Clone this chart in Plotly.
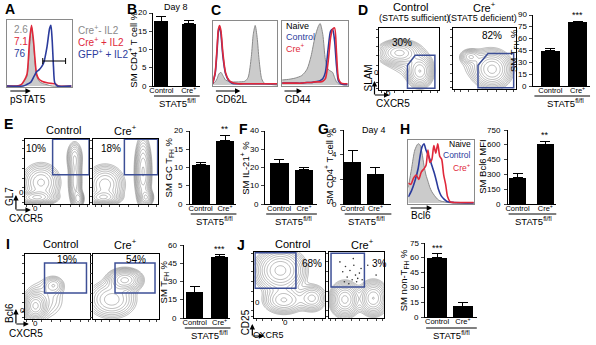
import numpy as np
import plotly.graph_objects as go

W, H = 596, 345
FONT = "Arial, Liberation Sans, sans-serif"
GATE = "#3d4f96"
BLUE = "#2b3b9c"
RED = "#e0283a"
GRAYLINE = "#8a8a8a"
GRAYFILL = "#cbcbcb"

# ---------------- data ----------------
categories = ["Control", "Cre<sup>+</sup>"]
B_mean = [17.7, 17.0]; B_err = [1.4, 1.0]; B_ticks = [0, 5, 10, 15, 20]
D_mean = [44.8, 81.5]; D_err = [2.9, 0.9]; D_ticks = [0, 15, 30, 45, 60, 75, 90]
E_mean = [10.7, 17.3]; E_err = [0.7, 1.6]; E_ticks = [0, 5, 10, 15, 20]
F_mean = [22.2, 18.7]; F_err = [2.3, 1.2]; F_ticks = [0, 10, 20, 30, 40]
G_mean = [3.39, 2.40]; G_err = [0.96, 0.59]; G_ticks = [0, 2, 4, 6]
H_mean = [267, 605]; H_err = [40, 33]; H_ticks = [0, 150, 300, 450, 600, 750]
I_mean = [21.0, 50.5]; I_err = [4.9, 1.3]; I_ticks = [0, 15, 30, 45, 60]
J_mean = [60.3, 10.7]; J_err = [4.0, 4.0]; J_ticks = [0, 15, 30, 45, 60, 75]

# histograms (x: relative fluorescence 0-100, y: % of max)
A_x_gray = [0, 15, 22, 27, 31, 35, 38, 41, 46, 50, 55, 62, 70, 100]
A_gray = [0, 0, 2, 8, 15, 60, 90, 65, 15, 7, 4, 2, 0, 0]
A_x_red = [0, 15, 22, 27, 31, 35, 38, 41, 46, 50, 55, 62, 68, 75, 80, 100]
A_red = [0, 0, 2, 9, 18, 70, 93, 70, 18, 10, 7, 5, 4, 3, 0, 0]
A_x_blue = [0, 25, 30, 37, 42, 46, 50, 54, 57, 62, 66, 68, 70, 72, 74, 78, 100]
A_blue = [0, 0, 2, 6, 15, 22, 25, 30, 36, 60, 88, 93, 70, 30, 5, 0, 0]

C1_x = [0, 4, 7, 9, 11, 13, 16, 20, 25, 30, 40, 50, 55, 60, 63, 66, 69, 72, 76, 80, 90, 100]
C1_gray = [2, 5, 10, 16, 19, 20, 15, 8, 6, 5, 5, 6, 12, 45, 80, 94, 75, 40, 10, 3, 1, 0]
C1_blue = [2, 18, 55, 85, 92, 80, 45, 18, 7, 3, 2, 2, 2, 2, 2, 2, 2, 2, 2, 2, 2, 2]
C1_red = [2, 20, 60, 88, 94, 85, 50, 20, 8, 4, 2, 2, 2, 2, 2, 2, 2, 2, 2, 2, 2, 2]

C2_x = [0, 10, 20, 30, 38, 44, 50, 55, 58, 62, 66, 70, 74, 77, 80, 83, 86, 90, 95, 100]
C2_gray = [8, 9, 11, 15, 25, 45, 75, 92, 97, 80, 40, 25, 22, 20, 12, 5, 2, 1, 0, 0]
C2_blue = [3, 3, 3, 3, 4, 4, 5, 6, 7, 10, 20, 55, 85, 88, 70, 30, 6, 2, 1, 1]
C2_red = [3, 3, 3, 3, 4, 4, 5, 5, 5, 6, 10, 35, 75, 88, 90, 50, 10, 3, 2, 2]

H_x_gray = [0, 5, 10, 15, 18, 21, 24, 27, 30, 33, 36, 40, 43, 46, 50, 55, 60, 70, 100]
H_gray = [25, 55, 85, 95, 93, 80, 60, 45, 35, 25, 18, 12, 8, 5, 3, 2, 1, 0, 0]
H_x_blue = [0, 5, 10, 15, 18, 21, 24, 27, 30, 33, 36, 40, 43, 46, 50, 55, 60, 70, 100]
H_blue = [10, 20, 35, 55, 75, 90, 95, 85, 78, 70, 60, 47, 35, 22, 12, 6, 2, 1, 0]
H_x_red = [0, 4, 8, 12, 16, 20, 24, 27, 30, 33, 36, 39, 42, 45, 48, 51, 54, 57, 60, 64, 70, 100]
H_red = [32, 30, 40, 45, 38, 50, 55, 60, 85, 65, 70, 92, 80, 95, 75, 70, 45, 30, 10, 2, 1, 1]

# flow cytometry populations: (center x, center y, spread x, spread y, weight)
D_ctrl_pops = [(33, 60, 16, 9, 1.0), (68, 30, 10, 12, 0.9), (50, 45, 20, 15, 0.12)]
D_cre_pops = [(28, 53, 8, 6, 0.35), (63, 32, 14, 14, 1.0), (45, 40, 20, 15, 0.1)]
E_ctrl_pops = [(18, 10, 14, 5, 1.0), (25, 33, 14, 14, 0.6), (78, 35, 5, 20, 0.5), (77, 72, 6, 12, 0.35), (83, 8, 4, 6, 0.6)]
E_cre_pops = [(15, 10, 12, 5, 0.8), (18, 30, 14, 14, 0.6), (77, 50, 6, 25, 0.7), (82, 10, 5, 6, 0.6)]
I_ctrl_pops = [(16, 20, 8, 10, 1.0), (44, 52, 8, 7, 0.25), (30, 30, 18, 18, 0.15)]
I_cre_pops = [(48, 60, 12, 8, 1.0), (28, 30, 18, 14, 0.45)]
J_ctrl_pops = [(37, 72, 16, 15, 1.0), (42, 27, 14, 10, 0.5), (82, 30, 10, 10, 0.4)]
J_cre_pops = [(29, 28, 12, 12, 1.0), (80, 30, 12, 12, 0.9)]
J_cre_dots_x = [20, 25, 30, 33, 38, 42, 45, 48, 50, 55, 58, 28, 36, 44, 52, 60, 70, 85]
J_cre_dots_y = [85, 70, 78, 62, 72, 58, 80, 65, 55, 68, 75, 55, 52, 90, 60, 58, 80, 65]

# gates (x, y vertices)
D_ctrl_gate = [(47, 3), (47, 40), (60, 56), (93, 56), (93, 3)]
D_cre_gate = [(40, 2), (40, 39), (56, 58), (97, 58), (97, 2)]
E_ctrl_gate = [(43, 45), (43, 99.5), (99.5, 99.5), (99.5, 45)]
E_cre_gate = [(48, 45), (48, 99.5), (99.5, 99.5), (99.5, 45)]
I_ctrl_gate = [(30, 40), (30, 86), (94, 86), (94, 40)]
I_cre_gate = [(33, 40), (33, 86), (94, 86), (94, 40)]
J_ctrl_gate = [(1, 45), (1, 99), (59, 99), (59, 45)]
J_cre_gate = [(4, 47), (4, 98), (64, 98), (64, 47)]

# ---------------- helpers ----------------
fig = go.Figure()
annotations = []
shapes = []
n_axes = [0]


def add_axes(x0, x1, y0, y1, xa_kw, ya_kw):
    n_axes[0] += 1
    n = n_axes[0]
    s = "" if n == 1 else str(n)
    fig.update_layout(**{
        "xaxis" + s: dict(domain=[x0 / W, x1 / W], anchor="y" + s, **xa_kw),
        "yaxis" + s: dict(domain=[1 - y1 / H, 1 - y0 / H], anchor="x" + s, **ya_kw),
    })
    return "x" + s, "y" + s


def text(x, y, s, size=10, color="black", xanchor="center", yanchor="middle", angle=0):
    annotations.append(dict(x=x / W, y=1 - y / H, xref="paper", yref="paper", text=s,
                            showarrow=False, xanchor=xanchor, yanchor=yanchor, textangle=angle,
                            font=dict(size=size, color=color, family=FONT)))


def arrow(x0, y0, x1, y1):
    annotations.append(dict(x=x1 / W, y=1 - y1 / H, xref="paper", yref="paper",
                            ax=x0 - x1, ay=y0 - y1, text="", showarrow=True,
                            arrowhead=2, arrowsize=0.9, arrowwidth=1.2, arrowcolor="black"))


def line(x0, y0, x1, y1, width=1, color="black"):
    shapes.append(dict(type="line", xref="paper", yref="paper", x0=x0 / W, x1=x1 / W,
                       y0=1 - y0 / H, y1=1 - y1 / H, line=dict(color=color, width=width)))


def bar_panel(x0, x1, ytop, ybot, means, errs, ticks, c0, c1, bw, ylabel, ylab_x,
              star=None, star_idx=None, lab_y=None, ylab_size=9.5, tsize=8):
    unit = c1 - c0
    r0 = -(c0 - x0) / unit
    r1 = r0 + (x1 - x0) / unit
    xa, ya = add_axes(
        x0, x1, ytop, ybot,
        dict(range=[r0, r1], showline=True, linecolor="black", linewidth=1, ticks="",
             tickvals=[0, 1], ticktext=categories, tickangle=0,
             tickfont=dict(size=7.5, family=FONT, color="black"),
             showgrid=False, zeroline=False, ticklabelstandoff=-3),
        dict(range=[0, ticks[-1]], showline=True, linecolor="black", linewidth=1,
             ticks="outside", ticklen=3, tickwidth=1, tickvals=ticks, showticklabels=False,
             showgrid=False, zeroline=False))
    # y tick labels at the same fractions of the axis height as the tick marks
    top = ticks[-1]
    for t in ticks:
        frac = t / top
        ypx = ybot - frac * (ybot - ytop)
        text(x0 - 4.5, ypx, str(t), size=tsize, xanchor="right")
    fig.add_trace(go.Bar(x=[0, 1], y=means, width=bw / unit, marker=dict(color="black", line=dict(width=0)),
                         error_y=dict(type="data", array=errs, arrayminus=[0, 0], symmetric=False,
                                      color="black", thickness=1, width=5),
                         xaxis=xa, yaxis=ya, showlegend=False))
    text(ylab_x, (ytop + ybot) / 2, ylabel, size=ylab_size, angle=-90)
    if star:
        annotations.append(dict(x=star_idx, y=means[star_idx] + errs[star_idx], xref=xa, yref=ya,
                                text=star, showarrow=False, yanchor="bottom", yshift=-1,
                                font=dict(size=9, family=FONT, color="black")))
    ly = ybot + 10 if lab_y is None else lab_y
    line(x0 + 1, ly, x1, ly, width=1)
    text((c0 + c1) / 2 + 2, ly + 6.5, "STAT5<sup>fl/fl</sup>", size=9.5)


def hist_panel(x0, x1, ytop, ybot, curves):
    xa, ya = add_axes(
        x0, x1, ytop, ybot,
        dict(range=[0, 100], showline=True, mirror=True, linecolor=GRAYLINE, linewidth=1,
             showticklabels=False, ticks="", showgrid=False, zeroline=False),
        dict(range=[-1.5, 101], showline=True, mirror=True, linecolor=GRAYLINE, linewidth=1,
             showticklabels=False, ticks="", showgrid=False, zeroline=False))
    for xs, ys, color, filled in curves:
        fig.add_trace(go.Scatter(
            x=xs, y=ys, mode="lines",
            line=dict(color=color, width=1 if filled else 1.6, shape="spline", smoothing=0.7),
            fill="tozeroy" if filled else None, fillcolor=GRAYFILL if filled else None,
            xaxis=xa, yaxis=ya, showlegend=False, hoverinfo="skip"))
    return xa, ya


grid = np.linspace(0, 100, 90)


def flow_panel(x0, x1, ytop, ybot, pops, gate, pct, pct_xy):
    xa, ya = add_axes(
        x0, x1, ytop, ybot,
        dict(range=[0, 100], showline=True, mirror=True, linecolor="black", linewidth=1,
             showticklabels=False, ticks="outside", ticklen=2, tickcolor="#444",
             tickvals=[3, 12, 25, 40, 55, 70, 85, 97], showgrid=False, zeroline=False),
        dict(range=[0, 100], showline=True, mirror=True, linecolor="black", linewidth=1,
             showticklabels=False, ticks="outside", ticklen=2, tickcolor="#444",
             tickvals=[3, 12, 25, 40, 55, 70, 85, 97], showgrid=False, zeroline=False))
    X, Y = np.meshgrid(grid, grid)
    Z = np.zeros_like(X)
    for cx, cy, sx, sy, w in pops:
        Z += w * np.exp(-((X - cx) ** 2 / (2 * sx ** 2) + (Y - cy) ** 2 / (2 * sy ** 2)))
    Z = np.log10(Z / Z.max() + 1e-6)
    fig.add_trace(go.Contour(x=grid, y=grid, z=Z, xaxis=xa, yaxis=ya, showscale=False,
                             contours=dict(start=-1.35, end=-0.05, size=0.13, coloring="lines"),
                             colorscale=[[0, "#777"], [1, "#777"]], line=dict(width=0.5),
                             hoverinfo="skip"))
    path = "M " + " L ".join(f"{gx} {gy}" for gx, gy in gate) + " Z"
    shapes.append(dict(type="path", path=path, xref=xa, yref=ya, line=dict(color=GATE, width=1.5)))
    annotations.append(dict(x=pct_xy[0], y=pct_xy[1], xref=xa, yref=ya, text=pct, showarrow=False,
                            font=dict(size=10, family=FONT, color="black")))
    return xa, ya


# ---------------- Panel A ----------------
hist_panel(3, 68, 20, 87, [(A_x_gray, A_gray, GRAYLINE, True),
                           (A_x_red, A_red, RED, False),
                           (A_x_blue, A_blue, BLUE, False)])
line(39, 61, 62, 61, width=1)
line(39, 58, 39, 64, width=1)
line(62, 58, 62, 64, width=1)
text(17, 30, "2.6", size=10, color="#8a8a8a")
text(17, 42, "7.1", size=10, color=RED)
text(16, 54, "76", size=10, color=BLUE)
text(72, 30, "Cre<sup>+</sup>- IL2", size=10, color="#8a8a8a", xanchor="left")
text(72, 42, "Cre<sup>+</sup> + IL2", size=10, color=RED, xanchor="left")
text(72, 54, "GFP<sup>+</sup> + IL2", size=10, color=BLUE, xanchor="left")
arrow(5, 91, 27, 91)
text(4, 100, "pSTAT5", size=10, xanchor="left")

# ---------------- Panel B ----------------
bar_panel(150, 197, 13, 86, B_mean, B_err, B_ticks, 158.5, 186, 14,
          "SM CD4<sup>+</sup> T cell %", 129, lab_y=96)
text(173, 7, "Day 8", size=9)

# ---------------- Panel C ----------------
hist_panel(210, 275, 21, 86, [(C1_x, C1_gray, GRAYLINE, True),
                              (C1_x, C1_blue, BLUE, False),
                              (C1_x, C1_red, RED, False)])
hist_panel(280, 346, 21, 86, [(C2_x, C2_gray, GRAYLINE, True),
                              (C2_x, C2_blue, BLUE, False),
                              (C2_x, C2_red, RED, False)])
text(282, 26, "Naive", size=9, xanchor="left")
text(282, 37, "Control", size=9, color=BLUE, xanchor="left")
text(282, 48, "Cre<sup>+</sup>", size=9, color=RED, xanchor="left")
arrow(212, 91, 238, 91)
text(211, 99, "CD62L", size=10, xanchor="left")
arrow(281, 91, 300, 91)
text(281, 99, "CD44", size=10, xanchor="left")

# ---------------- Panel D ----------------
flow_panel(378, 438, 28, 90, D_ctrl_pops, D_ctrl_gate, "30%", (38, 76))
flow_panel(452, 515, 28, 89, D_cre_pops, D_cre_gate, "82%", (63, 87))
text(409, 7, "Control", size=11)
text(413, 18, "(STAT5 sufficient)", size=9)
text(484, 7, "Cre<sup>+</sup>", size=11)
text(482, 18, "(STAT5 deficient)", size=9)
text(375, 73, "0", size=8)
text(387, 93, "0", size=8)
arrow(373, 96, 373, 81)
arrow(372, 95, 388, 95)
text(366, 78, "SLAM", size=10, angle=-90)
text(392, 103, "CXCR5", size=10)
bar_panel(533, 590, 15, 86, D_mean, D_err, D_ticks, 550, 577.5, 19,
          "SM T<sub>FH</sub> %", 513, star="***", star_idx=1, lab_y=96)

# ---------------- Panel E ----------------
flow_panel(21, 86, 139, 204, E_ctrl_pops, E_ctrl_gate, "10%", (18, 86))
flow_panel(90, 155, 139, 204, E_cre_pops, E_cre_gate, "18%", (28, 86))
text(60, 130, "Control", size=11)
text(122, 130, "Cre<sup>+</sup>", size=11)
text(18, 192, "0", size=8)
text(32, 208, "0", size=8)
arrow(12, 211, 12, 195)
arrow(11, 210, 27, 210)
text(5, 196, "GL7", size=10, angle=-90)
text(22, 218, "CXCR5", size=10)
bar_panel(187, 234, 131, 204, E_mean, E_err, E_ticks, 198, 222.5, 18,
          "SM GC T<sub>FH</sub> %", 167, star="**", star_idx=1, lab_y=214)

# ---------------- Panel F ----------------
bar_panel(263, 315, 131, 204, F_mean, F_err, F_ticks, 277, 302, 19,
          "SM IL-21<sup>+</sup> %", 243, lab_y=214)

# ---------------- Panel G ----------------
bar_panel(342, 390, 130, 204, G_mean, G_err, G_ticks, 351, 374, 17,
          "SM CD4<sup>+</sup> T cell %", 327, lab_y=214)
text(373, 130, "Day 4", size=9)

# ---------------- Panel H ----------------
hist_panel(407, 473, 140, 204, [(H_x_gray, H_gray, GRAYLINE, True),
                                (H_x_blue, H_blue, BLUE, False),
                                (H_x_red, H_red, RED, False)])
text(472, 144, "Naive", size=8.5, xanchor="right")
text(472, 155, "Control", size=8.5, color=BLUE, xanchor="right")
text(472, 167, "Cre<sup>+</sup>", size=8.5, color=RED, xanchor="right")
arrow(408, 208, 431, 208)
text(408, 215, "Bcl6", size=10, xanchor="left")
bar_panel(507, 556, 130, 204, H_mean, H_err, H_ticks, 517, 545, 17,
          "SM Bcl6 MFI", 481, star="**", star_idx=1, lab_y=214)

# ---------------- Panel I ----------------
flow_panel(21, 87, 254, 319, I_ctrl_pops, I_ctrl_gate, "19%", (64, 92))
flow_panel(90, 156, 254, 319, I_cre_pops, I_cre_gate, "54%", (65, 92))
text(57, 244, "Control", size=11)
text(122, 244, "Cre<sup>+</sup>", size=11)
text(19, 310, "0", size=8)
text(32, 323, "0", size=8)
arrow(12, 325, 12, 309)
arrow(11, 324, 25, 324)
text(5, 313, "Bcl6", size=10, angle=-90)
text(22, 333, "CXCR5", size=10)
bar_panel(181, 228, 245, 318, I_mean, I_err, I_ticks, 192, 217, 17,
          "SM T<sub>FH</sub> %", 161, star="***", star_idx=1, lab_y=328)

# ---------------- Panel J ----------------
flow_panel(252, 323, 252, 318, J_ctrl_pops, J_ctrl_gate, "68%", (82, 83))
flow_panel(327, 383, 252, 318, J_cre_pops, J_cre_gate, "3%", (91, 83))
fig.add_trace(go.Scatter(x=J_cre_dots_x, y=J_cre_dots_y, mode="markers",
                         marker=dict(size=1.6, color="#333"), xaxis="x" + str(n_axes[0]),
                         yaxis="y" + str(n_axes[0]), showlegend=False, hoverinfo="skip"))
text(290, 244, "Control", size=11)
text(361, 244, "Cre<sup>+</sup>", size=11)
text(255, 302, "0", size=8)
text(283, 322, "0", size=8)
arrow(250, 337, 250, 324)
arrow(249, 336, 262, 336)
text(243, 322, "CD25", size=10, angle=-90)
text(266, 335, "CXCR5", size=9)
bar_panel(424, 476, 243, 317, J_mean, J_err, J_ticks, 436, 462, 20,
          "SM non-T<sub>FH</sub> %", 403, star="***", star_idx=0, lab_y=328)

# ---------------- panel letters ----------------
for letter, lx, ly in [("A", 6, 9), ("B", 129, 9), ("C", 213, 10), ("D", 361, 10),
                       ("E", 5, 124), ("F", 241, 129), ("G", 322, 129), ("H", 404, 129),
                       ("I", 4, 244), ("J", 239, 245)]:
    text(lx, ly, f"<b>{letter}</b>", size=14)

fig.update_layout(width=W, height=H, margin=dict(l=0, r=0, t=0, b=0),
                  paper_bgcolor="white", plot_bgcolor="white", showlegend=False,
                  annotations=annotations, shapes=shapes, font=dict(family=FONT, color="black"),
                  bargap=0)
fig.write_html("out.html", config={"displayModeBar": False, "staticPlot": True},
               post_script="document.body.style.margin='0';document.body.style.padding='0';"
                           "document.body.style.overflow='hidden';")
